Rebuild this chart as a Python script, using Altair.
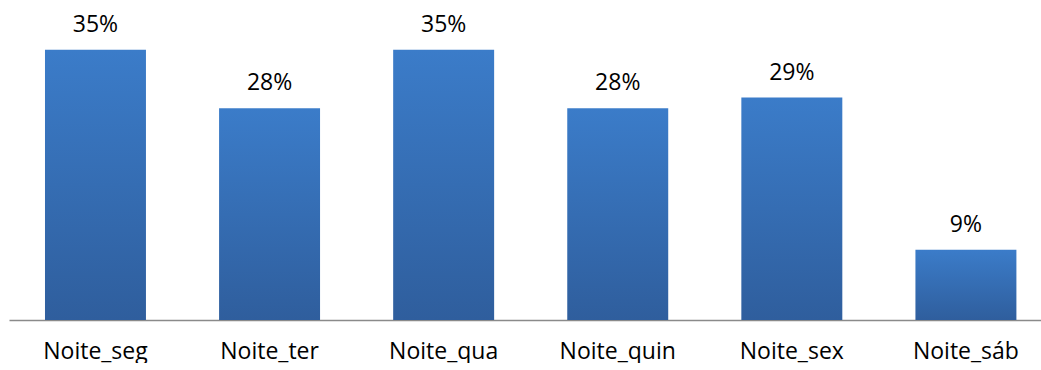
import altair as alt
import pandas as pd

categories = ["Noite_seg", "Noite_ter", "Noite_qua", "Noite_quin", "Noite_sex", "Noite_sáb"]
values = [0.35, 0.274, 0.35, 0.274, 0.288, 0.091]
labels = ["35%", "28%", "35%", "28%", "29%", "9%"]

df = pd.DataFrame({"cat": categories, "val": values, "lab": labels})

FONT = "Open Sans"

x = alt.X("cat:N", sort=categories, title=None,
          scale=alt.Scale(paddingInner=0.42, paddingOuter=0.174, align=0.594),
          axis=alt.Axis(labelAngle=0, labelFont=FONT, labelFontSize=23, labelColor="#000000",
                        labelPadding=20, ticks=False, domainColor="#8a8a8a", domainWidth=1.5,
                        grid=False))
y = alt.Y("val:Q", title=None, scale=alt.Scale(domain=[0, 0.4], nice=False),
          axis=None)

grad = alt.Gradient(gradient="linear",
                    stops=[alt.GradientStop(color="#3b7cc9", offset=0),
                           alt.GradientStop(color="#2f5e9d", offset=1)],
                    x1=0, x2=0, y1=0, y2=1)

bars = alt.Chart(df).mark_bar(color=grad).encode(x=x, y=y)
text = alt.Chart(df).mark_text(font=FONT, fontSize=23, color="#000000", dy=-18,
                               baseline="alphabetic").encode(x=x, y=y, text="lab:N")

chart = (bars + text).properties(
    width=1032, height=309,
    padding={"left": 9, "top": 11, "right": 0, "bottom": 0},
    view=alt.ViewBackground(strokeWidth=0, stroke="transparent"),
).configure_view(strokeWidth=0, strokeOpacity=0, stroke="transparent").configure(background="white")

chart.save("out.html", embed_options={"renderer": "svg", "actions": False})
